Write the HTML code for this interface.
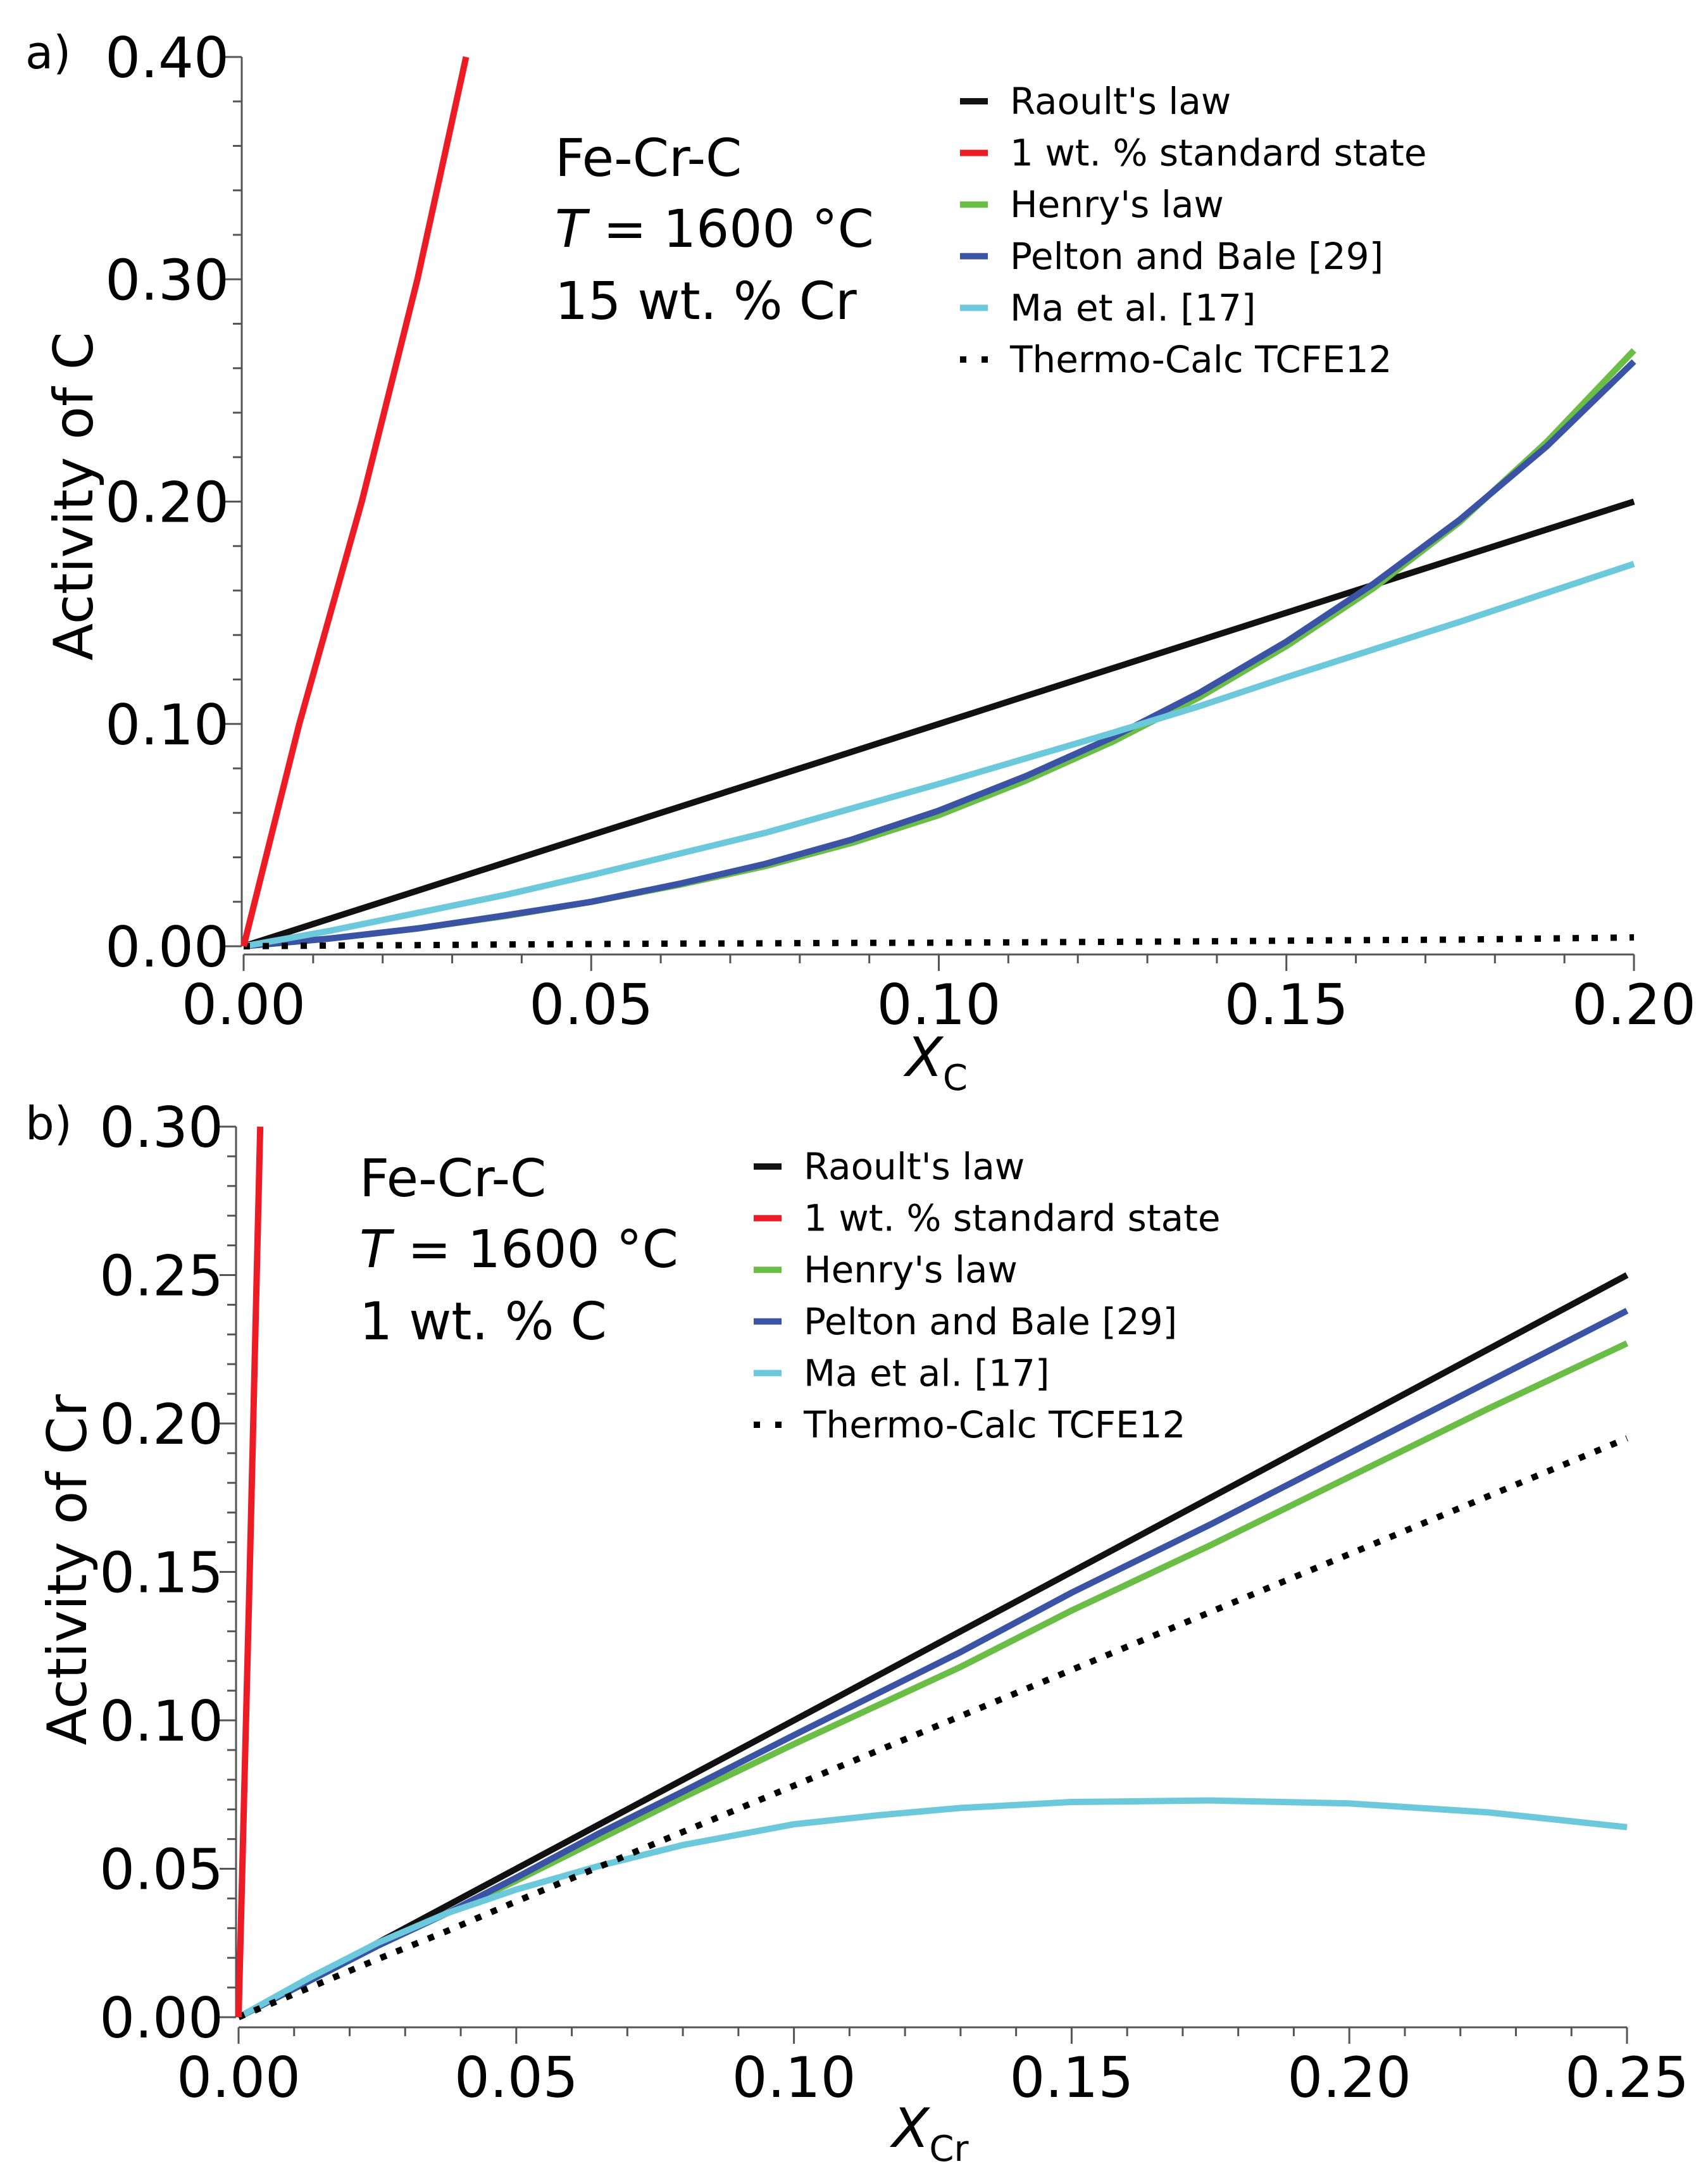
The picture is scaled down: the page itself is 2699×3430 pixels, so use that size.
<!DOCTYPE html>
<html><head><meta charset="utf-8"><style>
html,body{margin:0;padding:0;background:#fff}
svg{display:block}
text{font-family:"DejaVu Sans","Liberation Sans",sans-serif;fill:#000}
</style></head><body>
<svg id="fig" width="2699" height="3430" viewBox="0 0 2699 3430" xmlns="http://www.w3.org/2000/svg"></svg>
<script>
// Panel a data (X_C vs activity of C)
const aX = [0,0.0125,0.025,0.0375,0.05,0.0625,0.075,0.0875,0.10,0.1125,0.125,0.1375,0.15,0.1625,0.175,0.1875,0.20];
const aRaoult = [0,0.0125,0.025,0.0375,0.05,0.0625,0.075,0.0875,0.10,0.1125,0.125,0.1375,0.15,0.1625,0.175,0.1875,0.20];
const aHenry = [0,0.0035,0.008,0.0135,0.020,0.0275,0.036,0.0465,0.059,0.0745,0.092,0.112,0.135,0.161,0.191,0.227,0.268];
const aPelton = [0,0.0035,0.008,0.0138,0.020,0.028,0.037,0.048,0.061,0.0765,0.094,0.114,0.137,0.163,0.192,0.225,0.263];
const aMa = [0,0.007,0.015,0.023,0.032,0.0415,0.051,0.062,0.073,0.0845,0.096,0.108,0.121,0.1335,0.146,0.159,0.172];
const aTC = [0,0.0003,0.0005,0.0008,0.001,0.0012,0.0013,0.0015,0.0016,0.0018,0.002,0.0022,0.0025,0.0028,0.003,0.0035,0.004];
const aRedX = [0,0.004,0.008,0.0125,0.017,0.021,0.025,0.0285,0.032];
const aRedY = [0,0.05,0.1,0.15,0.2,0.25,0.3,0.35,0.4];
const aXTicks = ["0.00","0.05","0.10","0.15","0.20"];
const aYTicks = ["0.00","0.10","0.20","0.30","0.40"];
// Panel b data (X_Cr vs activity of Cr)
const bX = [0,0.0125,0.025,0.0375,0.05,0.065,0.08,0.10,0.115,0.13,0.15,0.175,0.20,0.225,0.25];
const bRaoult = [0,0.0125,0.025,0.0375,0.05,0.065,0.08,0.10,0.115,0.13,0.15,0.175,0.20,0.225,0.25];
const bHenry = [0,0.012,0.024,0.035,0.046,0.060,0.074,0.092,0.105,0.118,0.137,0.159,0.182,0.205,0.227];
const bPelton = [0,0.012,0.024,0.035,0.047,0.062,0.076,0.095,0.109,0.123,0.143,0.166,0.190,0.214,0.238];
const bMa = [0,0.013,0.025,0.035,0.043,0.051,0.058,0.065,0.068,0.0705,0.0725,0.073,0.072,0.069,0.064];
const bTC = [0,0.00975,0.0195,0.029,0.039,0.0507,0.0624,0.078,0.0897,0.1014,0.117,0.1365,0.156,0.1755,0.195];
const bRedX = [0,0.002,0.0039];
const bRedY = [0,0.15,0.30];
const bXTicks = ["0.00","0.05","0.10","0.15","0.20","0.25"];
const bYTicks = ["0.00","0.05","0.10","0.15","0.20","0.25","0.30"];
const legendLabels = ["Raoult's law","1 wt. % standard state","Henry's law","Pelton and Bale [29]","Ma et al. [17]","Thermo-Calc TCFE12"];

const NS="http://www.w3.org/2000/svg";
const svg=document.getElementById('fig');
function mk(tag,attrs,parent){const e=document.createElementNS(NS,tag);for(const k in attrs)e.setAttribute(k,attrs[k]);(parent||svg).appendChild(e);return e;}
const C={black:"#111111",red:"#ed1c24",green:"#6abd45",blue:"#3a53a4",cyan:"#6cc9dc"};

function panel(o){
  const g=mk('g',{});
  
  
  const sx=v=>o.x0+(v-o.xmin)/(o.xmax-o.xmin)*(o.x1-o.x0);
  const sy=v=>o.y0-(v/o.ymax)*(o.y0-o.y1);
  const ax=mk('line',{x1:o.x0,y1:o.axY,x2:o.x1,y2:o.axY,stroke:"#555",'stroke-width':3},g);
  
  const ay=mk('line',{x1:o.axX,y1:o.y1,x2:o.axX,y2:o.y0,stroke:"#555",'stroke-width':3},g);
  
  const nx=o.xTicks.length-1, xstep=(o.xmax-o.xmin)/nx;
  for(let i=0;i<=nx*5;i++){
    const v=i*xstep/5, X=sx(v), maj=i%5===0;
    mk('line',{x1:X,y1:o.axY,x2:X,y2:o.axY+(maj?26:14),stroke:"#555",'stroke-width':3},g);
  }
  o.xTicks.forEach((t,i)=>{const e=mk('text',{x:sx(i*xstep),y:o.axY+110,'font-size':88,'text-anchor':'middle'},g);e.textContent=t;
    });
  const ny=o.yTicks.length-1, ystep=o.ymax/ny;
  for(let i=0;i<=ny*o.yMinor;i++){
    const v=i*ystep/o.yMinor, Y=sy(v), maj=i%o.yMinor===0;
    mk('line',{x1:o.axX-(maj?26:14),y1:Y,x2:o.axX,y2:Y,stroke:"#555",'stroke-width':3},g);
  }
  o.yTicks.forEach((t,i)=>{const e=mk('text',{x:o.axX-20,y:sy(i*ystep)+32,'font-size':88,'text-anchor':'end'},g);e.textContent=t;
    });
  const path=(xs,ys,color,name,dash)=>{
    const d=xs.map((x,i)=>(i?'L':'M')+sx(x).toFixed(1)+','+sy(ys[i]).toFixed(1)).join('');
    const p=mk('path',{d:d,fill:'none',stroke:color,'stroke-width':10,'stroke-linejoin':'round'},g);
    if(dash){p.setAttribute('stroke-dasharray',dash);}
    
  };
  path(o.X,o.raoult,C.black,'raoult-line');
  path(o.X,o.henry,C.green,'henry-line');
  path(o.X,o.pelton,C.blue,'pelton-bale-line');
  path(o.X,o.ma,C.cyan,'ma-line');
  path(o.X,o.tc,'#000','thermo-calc-line',o.dash);
  path(o.redX,o.redY,C.red,'one-wt-pct-line');
  const lg=mk('g',{},g);
  
  const cols=[C.black,C.red,C.green,C.blue,C.cyan,'#000'];
  legendLabels.forEach((t,i)=>{
    const y=o.legY+i*81.6;
    const ln=mk('line',{x1:o.legX,y1:y,x2:o.legX+44,y2:y,stroke:cols[i],'stroke-width':10},lg);
    if(i===5)ln.setAttribute('stroke-dasharray','10 24');
    
    const e=mk('text',{x:o.legX+79,y:y+20,'font-size':58},lg);e.textContent=t;
    
  });
  const an=mk('text',{x:o.annX,y:o.annY,'font-size':82},g);
  
  an.textContent="Fe-Cr-C";
  const t2=mk('text',{x:o.annX,y:o.annY+112,'font-size':82},g);
  
  const ts=mk('tspan',{'font-style':'italic'},t2);ts.textContent="T";
  const ts2=mk('tspan',{},t2);ts2.textContent=" = 1600 °C";
  const t3=mk('text',{x:o.annX,y:o.annY+226,'font-size':82},g);
  
  t3.textContent=o.comp;
  const yt=mk('text',{x:0,y:0,'font-size':86,'text-anchor':'middle',transform:`translate(${o.ytX},${o.ytY}) rotate(-90)`},g);
  yt.textContent=o.ytitle;
  const xt=mk('text',{x:o.xtX,y:o.xtY,'font-size':86,'text-anchor':'middle'},g);
  
  const xi=mk('tspan',{'font-style':'italic'},xt);xi.textContent="X";
  const xs=mk('tspan',{'font-size':56,dy:22},xt);xs.textContent=o.sub;
  const pl=mk('text',{x:40,y:o.plY,'font-size':72},g);
  pl.textContent=o.pl;
}

panel({name:'panel-a',x0:385,x1:2582,xmin:0,xmax:0.2,y0:1495,y1:90,ymax:0.4,axX:382,axY:1508,yMinor:5,
  xTicks:aXTicks,yTicks:aYTicks,X:aX,raoult:aRaoult,henry:aHenry,pelton:aPelton,ma:aMa,tc:aTC,redX:aRedX,redY:aRedY,dash:'10 20',
  legX:1517,legY:160,annX:877,annY:278,comp:"15 wt. % Cr",ytitle:"Activity of C",ytX:146,ytY:784,xtX:1480,xtY:1700,sub:"C",pl:"a)",plY:108});
panel({name:'panel-b',x0:377,x1:2571,xmin:0,xmax:0.25,y0:3187,y1:1780,ymax:0.3,axX:373,axY:3203,yMinor:5,
  xTicks:bXTicks,yTicks:bYTicks,X:bX,raoult:bRaoult,henry:bHenry,pelton:bPelton,ma:bMa,tc:bTC,redX:bRedX,redY:bRedY,dash:'10 17',
  legX:1191,legY:1843,annX:568,annY:1890,comp:"1 wt. % C",ytitle:"Activity of Cr",ytX:136,ytY:2480,xtX:1470,xtY:3392,sub:"Cr",pl:"b)",plY:1800});
</script>
</body></html>
